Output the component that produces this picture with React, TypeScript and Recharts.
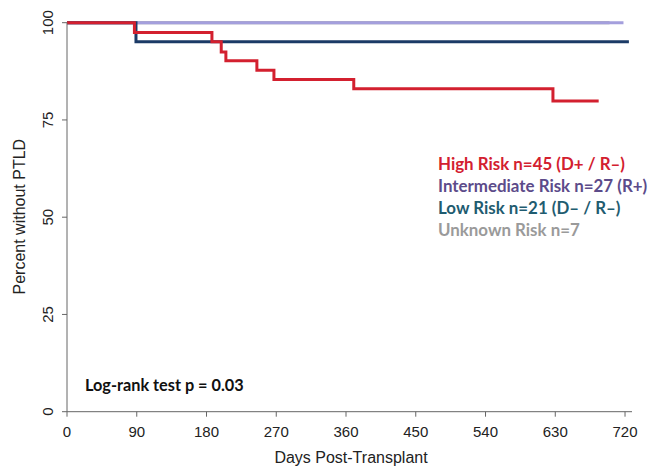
import React from "react";
import { LineChart, Line, XAxis, YAxis } from "recharts";

const xTicks = [0, 90, 180, 270, 360, 450, 540, 630, 720];
const yTicks = [0, 25, 50, 75, 100];

const highRisk = [
  { day: 0, pct: 100 },
  { day: 87, pct: 97.5 },
  { day: 187, pct: 95.1 },
  { day: 199, pct: 92.5 },
  { day: 205, pct: 90.2 },
  { day: 245, pct: 87.8 },
  { day: 267, pct: 85.4 },
  { day: 370, pct: 83.0 },
  { day: 627, pct: 79.9 },
  { day: 686, pct: 79.9 },
];
const intermediateRisk = [
  { day: 0, pct: 100 },
  { day: 718, pct: 100 },
];
const lowRisk = [
  { day: 0, pct: 100 },
  { day: 89, pct: 95.1 },
  { day: 725, pct: 95.1 },
];
const unknownRisk = [
  { day: 0, pct: 100 },
  { day: 700, pct: 100 },
];

const legendItems = [
  { text: "High Risk n=45 (D+ / R–)", color: "#d3202f" },
  { text: "Intermediate Risk n=27 (R+)", color: "#5c4b8a" },
  { text: "Low Risk n=21 (D– / R–)", color: "#1f5c70" },
  { text: "Unknown Risk n=7", color: "#9a9a9a" },
];

const axisFont = "'Liberation Sans', Arial, sans-serif";
const legendFont = "Lato, 'Open Sans', sans-serif";

const XTick = (props: any) => {
  const { x, payload } = props;
  return (
    <text x={x} y={436.5} textAnchor="middle" fontFamily={axisFont} fontSize={15} fill="#222">
      {payload.value}
    </text>
  );
};

const YTick = (props: any) => {
  const { y, payload } = props;
  return (
    <text
      transform={`translate(53, ${y}) rotate(-90)`}
      textAnchor="middle"
      fontFamily={axisFont}
      fontSize={15}
      fill="#222"
    >
      {payload.value}
    </text>
  );
};

export default function App() {
  return (
    <div style={{ position: "absolute", left: 0, top: 0, width: 659, height: 467, background: "#fff" }}>
      <LineChart
        width={659}
        height={467}
        margin={{ top: 22.7, right: 27, left: 27, bottom: 15.3 }}
      >
        <XAxis
          dataKey="day"
          type="number"
          domain={[0, 729]}
          ticks={xTicks}
          allowDataOverflow
          height={40}
          tickSize={5}
          stroke="#666"
          tick={<XTick />}
        />
        <YAxis
          dataKey="pct"
          type="number"
          domain={[0, 100]}
          ticks={yTicks}
          width={40}
          tickSize={5}
          stroke="#666"
          tick={<YTick />}
        />
        <Line data={unknownRisk} dataKey="pct" type="stepAfter" stroke="#9a9a9a" strokeWidth={3} dot={false} isAnimationActive={false} />
        <Line data={intermediateRisk} dataKey="pct" type="stepAfter" stroke="#a49fdd" strokeWidth={3} dot={false} isAnimationActive={false} />
        <Line data={lowRisk} dataKey="pct" type="stepAfter" stroke="#1b3a66" strokeWidth={3} dot={false} isAnimationActive={false} />
        <Line data={highRisk} dataKey="pct" type="stepAfter" stroke="#d3202f" strokeWidth={3} dot={false} isAnimationActive={false} />
      </LineChart>
      <svg width={659} height={467} style={{ position: "absolute", left: 0, top: 0, pointerEvents: "none" }}>
        <text x={351} y={462.5} textAnchor="middle" fontFamily={axisFont} fontSize={16} fill="#222">
          Days Post-Transplant
        </text>
        <text
          transform="translate(25, 216.7) rotate(-90)"
          textAnchor="middle"
          fontFamily={axisFont}
          fontSize={16}
          fill="#222"
        >
          Percent without PTLD
        </text>
        <text x={85} y={391} fontFamily={legendFont} fontWeight={700} fontSize={16.3} fill="#111">
          Log-rank test p = 0.03
        </text>
        {legendItems.map((item, i) => (
          <text
            key={item.text}
            x={438}
            y={169.5 + i * 22.2}
            fontFamily={legendFont}
            fontWeight={700}
            fontSize={16.9}
            fill={item.color}
          >
            {item.text}
          </text>
        ))}
      </svg>
    </div>
  );
}
